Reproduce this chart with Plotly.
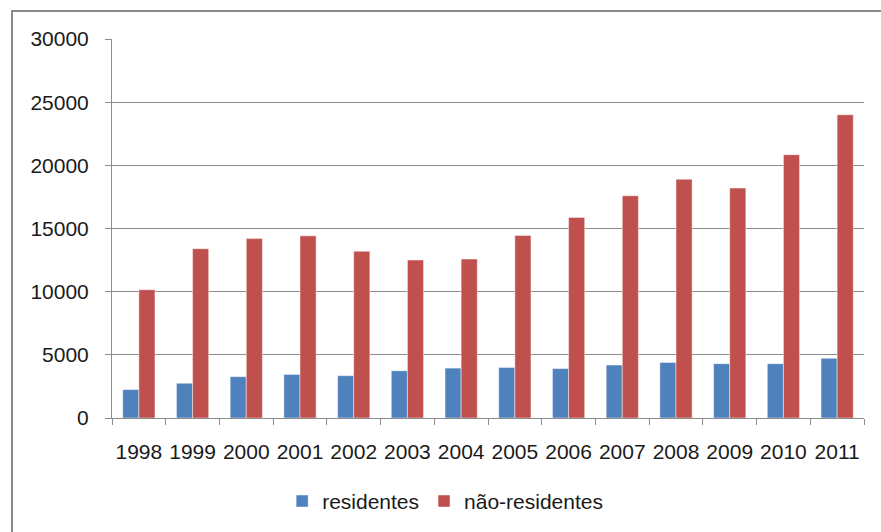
import plotly.graph_objects as go

anos = ["1998", "1999", "2000", "2001", "2002", "2003", "2004",
        "2005", "2006", "2007", "2008", "2009", "2010", "2011"]
residentes = [2250, 2750, 3270, 3450, 3350, 3740, 3950,
              4000, 3910, 4190, 4400, 4300, 4300, 4720]
nao_residentes = [10150, 13400, 14200, 14420, 13200, 12500, 12580,
                  14450, 15880, 17590, 18900, 18200, 20840, 24000]
y_ticks = [0, 5000, 10000, 15000, 20000, 25000, 30000]

FONT = "Liberation Sans"
GRID = "#8c8c8c"

fig = go.Figure()
fig.add_trace(go.Bar(
    x=anos, y=residentes, name="residentes",
    marker=dict(color="#4F81BD", line=dict(color="rgba(255,255,255,0.45)", width=1)),
))
fig.add_trace(go.Bar(
    x=anos, y=nao_residentes, name="não-residentes",
    marker=dict(color="#C0504D", line=dict(color="rgba(255,255,255,0.45)", width=1)),
))

fig.update_layout(
    width=881, height=532,
    margin=dict(l=112, r=17, t=39, b=114, autoexpand=False),
    paper_bgcolor="white", plot_bgcolor="white",
    barmode="group", bargap=0.4, bargroupgap=0,
    font=dict(family=FONT, size=21, color="#1a1a1a"),
    showlegend=True,
    legend=dict(
        orientation="h", x=0.443, xanchor="center", y=-0.22, yanchor="middle",
        font=dict(family=FONT, size=21, color="#1a1a1a"),
        itemwidth=30, traceorder="normal",
    ),
    xaxis=dict(
        type="category", showgrid=False, showline=True, linecolor=GRID, linewidth=1,
        ticks="outside", tickson="boundaries", ticklen=6, tickcolor=GRID,
        tickangle=0,
        tickfont=dict(family=FONT, size=21, color="#1a1a1a"),
        ticklabelstandoff=15,
    ),
    yaxis=dict(
        range=[0, 30000], tickvals=y_ticks, ticktext=[str(v) for v in y_ticks],
        showgrid=True, gridcolor=GRID, gridwidth=1,
        showline=True, linecolor=GRID, linewidth=1,
        ticks="outside", ticklen=6, tickcolor=GRID,
        tickfont=dict(family=FONT, size=21, color="#1a1a1a"),
        ticklabelstandoff=12, zeroline=False,
    ),
    shapes=[dict(
        type="rect", xref="paper", yref="paper",
        x0=(12 - 112) / 752, x1=(900 - 112) / 752,
        y0=(418 - 560) / 379, y1=(418 - 11) / 379,
        line=dict(color="#8a8a8a", width=2), fillcolor="rgba(0,0,0,0)", layer="below",
    )],
)

fig.write_html("out.html")
